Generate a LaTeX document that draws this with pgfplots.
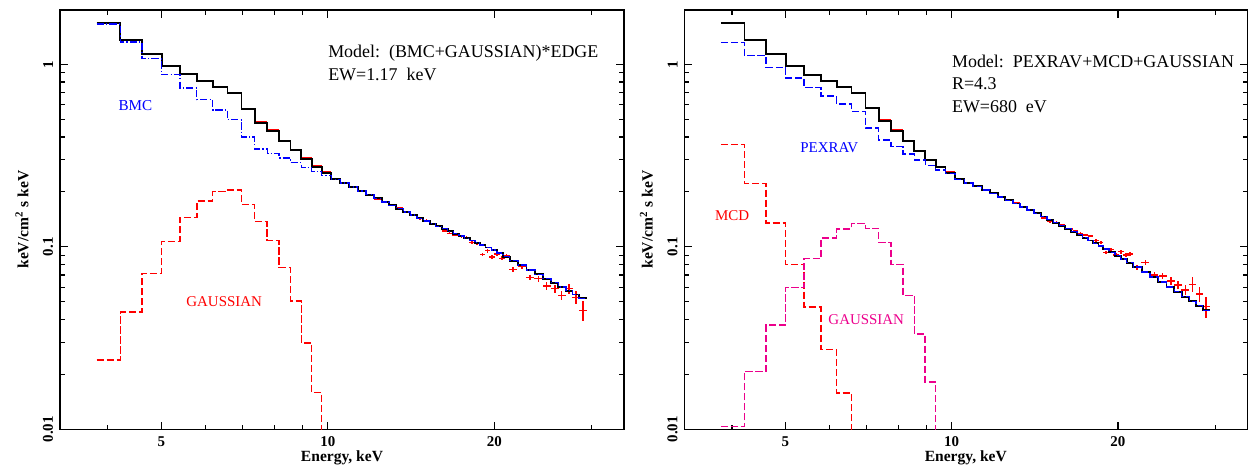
\documentclass[border=0pt]{standalone}
\usepackage{fontspec}
\setmainfont{Liberation Serif}
\usepackage{pgfplots}
\usepackage{pgfplotstable}
\pgfplotsset{compat=1.18}

% ---------- left panel: model (bin low edges) ----------
\pgfplotstableread{
lo tot comp
3.820 1.684 1.663
4.215 1.364 1.325
4.610 1.143 1.073
5.005 0.982 0.877
5.400 0.885 0.742
5.795 0.813 0.640
6.190 0.754 0.562
6.585 0.699 0.497
6.980 0.569 0.400
7.375 0.479 0.343
7.770 0.433 0.324
8.165 0.381 0.307
8.560 0.338 0.289
8.955 0.304 0.271
9.350 0.275 0.259
9.745 0.255 0.245
10.140 0.2362 0.2340
10.535 0.2240 0.2240
10.930 0.2128 0.2128
11.325 0.2024 0.2024
11.720 0.1930 0.1930
12.115 0.1842 0.1842
12.510 0.1761 0.1761
12.905 0.1685 0.1685
13.300 0.1616 0.1616
13.695 0.1551 0.1551
14.090 0.1490 0.1490
14.485 0.1434 0.1434
14.880 0.1385 0.1385
15.275 0.1339 0.1339
15.670 0.1296 0.1296
16.065 0.1256 0.1256
16.460 0.1217 0.1217
16.855 0.1181 0.1181
17.250 0.1147 0.1147
17.645 0.1113 0.1113
18.050 0.1082 0.1082
18.440 0.1053 0.1053
18.820 0.1023 0.1023
19.270 0.0991 0.0991
19.760 0.0961 0.0961
20.230 0.0923 0.0923
20.740 0.0884 0.0884
21.320 0.0839 0.0839
22.070 0.0793 0.0793
22.860 0.0748 0.0748
23.660 0.0707 0.0707
24.490 0.0669 0.0669
25.290 0.0635 0.0635
26.080 0.0603 0.0603
26.920 0.0574 0.0574
27.680 0.0548 0.0548
28.460 0.0522 0.0522
29.350 0.0522 0.0522
}\LeftModel

\pgfplotstableread{
lo y
3.820 0.0240
4.215 0.0438
4.610 0.0716
5.005 0.1072
5.400 0.1451
5.795 0.1782
6.190 0.2004
6.585 0.2048
6.980 0.1701
7.375 0.1373
7.770 0.1080
8.165 0.0768
8.560 0.0505
8.955 0.0298
9.350 0.01587
9.745 0.004
}\LeftGauss

\pgfplotstableread{
x y ex ey
4.0175 1.690 0.1975 0.005
4.4125 1.370 0.1975 0.005
4.8075 1.148 0.1975 0.005
5.2025 0.986 0.1975 0.005
5.5975 0.889 0.1975 0.005
5.9925 0.817 0.1975 0.005
6.3875 0.757 0.1975 0.005
6.7825 0.702 0.1975 0.005
7.1775 0.572 0.1975 0.005
7.5725 0.482 0.1975 0.005
7.9675 0.436 0.1975 0.005
8.3625 0.383 0.1975 0.005
8.7575 0.340 0.1975 0.005
9.1525 0.306 0.1975 0.006
9.5475 0.277 0.1975 0.006
9.9425 0.257 0.1975 0.006
10.3375 0.2375 0.1975 0.007
10.7325 0.2255 0.1975 0.007
11.1275 0.2135 0.1975 0.008
11.5225 0.2040 0.1975 0.008
11.9175 0.1935 0.1975 0.008
12.3125 0.1830 0.1975 0.009
12.7075 0.1775 0.1975 0.009
13.1025 0.1690 0.1975 0.010
13.4975 0.1630 0.1975 0.010
13.8925 0.1545 0.1975 0.011
14.2875 0.1500 0.1975 0.011
14.6825 0.1425 0.1975 0.012
15.0775 0.1395 0.1975 0.012
15.4725 0.1330 0.1975 0.013
15.8675 0.1300 0.1975 0.013
16.27 0.1221 0.19 0.014
16.61 0.1186 0.19 0.015
16.99 0.1161 0.20 0.016
17.43 0.1138 0.20 0.017
17.80 0.1127 0.20 0.018
18.23 0.1059 0.20 0.019
18.61 0.1040 0.20 0.020
19.02 0.0905 0.22 0.022
19.42 0.0951 0.22 0.022
19.81 0.0877 0.22 0.024
20.23 0.0915 0.24 0.024
20.65 0.0865 0.25 0.026
21.03 0.0892 0.28 0.026
21.60 0.0753 0.35 0.030
22.43 0.0782 0.38 0.032
23.21 0.0679 0.40 0.036
24.01 0.0668 0.40 0.040
24.85 0.0610 0.42 0.045
25.72 0.0589 0.42 0.050
26.46 0.0541 0.45 0.060
27.30 0.0589 0.45 0.065
28.07 0.0528 0.45 0.080
28.93 0.0448 0.45 0.130
}\LeftData

% ---------- right panel ----------
\pgfplotstableread{
lo tot comp
3.820 1.684 1.320
4.215 1.359 1.115
4.610 1.139 0.963
5.005 0.979 0.841
5.400 0.877 0.744
5.795 0.813 0.670
6.190 0.748 0.606
6.585 0.694 0.553
6.980 0.574 0.448
7.375 0.491 0.385
7.770 0.433 0.3536
8.165 0.381 0.3225
8.560 0.335 0.299
8.955 0.299 0.2797
9.350 0.273 0.2635
9.745 0.255 0.252
10.140 0.2345 0.2345
10.535 0.2240 0.2240
10.930 0.2142 0.2142
11.325 0.2048 0.2048
11.720 0.1962 0.1962
12.115 0.1878 0.1878
12.510 0.1800 0.1800
12.905 0.1726 0.1726
13.300 0.1655 0.1655
13.695 0.1589 0.1589
14.090 0.1526 0.1526
14.485 0.1466 0.1466
14.880 0.1409 0.1409
15.275 0.1355 0.1355
15.670 0.1304 0.1304
16.065 0.1256 0.1256
16.460 0.1209 0.1209
16.855 0.1165 0.1165
17.250 0.1122 0.1122
17.645 0.1082 0.1082
18.050 0.1044 0.1044
18.440 0.1008 0.1008
18.820 0.0972 0.0972
19.270 0.0932 0.0932
19.760 0.0894 0.0894
20.230 0.0858 0.0858
20.740 0.0819 0.0819
21.320 0.0775 0.0775
22.070 0.0728 0.0728
22.860 0.0683 0.0683
23.660 0.0640 0.0640
24.490 0.0602 0.0602
25.290 0.0567 0.0567
26.080 0.0533 0.0533
26.920 0.0503 0.0503
27.680 0.0476 0.0476
28.460 0.0449 0.0449
29.350 0.0449 0.0449
}\RightModel

\pgfplotstableread{
lo y
3.820 0.3626
4.215 0.2228
4.610 0.1350
5.005 0.0802
5.400 0.0468
5.795 0.0274
6.190 0.0158
6.585 0.004
}\RightMCD

\pgfplotstableread{
lo y
3.820 0.01033
4.215 0.0208
4.610 0.0373
5.005 0.0600
5.400 0.0861
5.795 0.1117
6.190 0.1252
6.585 0.1345
6.980 0.1263
7.375 0.1059
7.770 0.0802
8.165 0.0542
8.560 0.0333
8.955 0.0182
9.350 0.004
}\RightGauss

\pgfplotstableread{
x y ex ey
4.0175 1.690 0.1975 0.005
4.4125 1.366 0.1975 0.005
4.8075 1.145 0.1975 0.005
5.2025 0.984 0.1975 0.005
5.5975 0.881 0.1975 0.005
5.9925 0.818 0.1975 0.005
6.3875 0.752 0.1975 0.005
6.7825 0.698 0.1975 0.005
7.1775 0.577 0.1975 0.005
7.5725 0.494 0.1975 0.005
7.9675 0.436 0.1975 0.005
8.3625 0.383 0.1975 0.005
8.7575 0.337 0.1975 0.005
9.1525 0.301 0.1975 0.006
9.5475 0.275 0.1975 0.006
9.9425 0.257 0.1975 0.006
10.3375 0.2360 0.1975 0.007
10.7325 0.2250 0.1975 0.007
11.1275 0.2160 0.1975 0.008
11.5225 0.2055 0.1975 0.008
11.9175 0.1975 0.1975 0.008
12.3125 0.1890 0.1975 0.009
12.7075 0.1810 0.1975 0.009
13.1025 0.1735 0.1975 0.010
13.4975 0.1665 0.1975 0.010
13.8925 0.1600 0.1975 0.011
14.2875 0.1530 0.1975 0.011
14.6825 0.1440 0.1975 0.012
15.0775 0.1375 0.1975 0.012
15.4725 0.1360 0.1975 0.013
15.8675 0.1315 0.1975 0.013
16.41 0.1252 0.19 0.014
16.75 0.1221 0.19 0.015
17.11 0.1186 0.20 0.016
17.47 0.1161 0.20 0.017
17.83 0.1146 0.20 0.018
18.25 0.1080 0.20 0.019
18.63 0.1053 0.20 0.020
19.03 0.0928 0.22 0.022
19.43 0.0969 0.22 0.022
19.84 0.0902 0.22 0.024
20.25 0.0940 0.24 0.024
20.68 0.0902 0.25 0.026
21.03 0.0913 0.28 0.026
21.65 0.0772 0.35 0.030
22.42 0.0818 0.38 0.032
23.27 0.0701 0.40 0.036
24.09 0.0692 0.40 0.040
24.94 0.0650 0.42 0.045
25.67 0.0618 0.42 0.050
26.48 0.0580 0.45 0.060
27.29 0.0623 0.45 0.095
28.09 0.0551 0.45 0.090
28.88 0.0470 0.45 0.130
}\RightData

\pgfplotsset{
  specaxis/.style={
    scale only axis,
    xmin=3.28, xmax=34.3, ymin=0.01, ymax=1.984,
    height=209.65bp,
    xtick={5,10,20}, xticklabels={5,10,20},
    minor xtick={4,6,7,8,9,30},
    ytick={0.01,0.1,1}, yticklabels={0.01,0.1,1},
    minor ytick={0.02,0.03,0.04,0.05,0.06,0.07,0.08,0.09,0.2,0.3,0.4,0.5,0.6,0.7,0.8,0.9},
    xtick pos=both, ytick pos=both,
    tick align=inside,
    major tick length=3.8bp, minor tick length=2.4bp,
    axis line style={line width=0.75bp},
    every tick/.style={black, line width=0.6bp},
    xticklabel style={font=\fontsize{7.5}{8}\selectfont\bfseries, inner sep=0pt, anchor=north, yshift=-3.4bp},
    yticklabel style={font=\fontsize{7.5}{8}\selectfont\bfseries, rotate=90, anchor=south, inner sep=0pt, yshift=3.2bp},
    xlabel={Energy, keV},
    ylabel={keV/cm\textsuperscript{2} s keV},
    every axis x label/.style={at={(axis description cs:0.5,-0.0684)}, anchor=center, font=\fontsize{7.8}{9}\selectfont\bfseries},
    every axis y label/.style={at={(axis description cs:-0.0674,0.5)}, rotate=90, anchor=center, font=\fontsize{7.8}{9}\selectfont\bfseries},
  },
}

\begin{document}
\begin{tikzpicture}
\path[use as bounding box] (0,0) rectangle (624bp,233.5bp);

% ---------------- left panel ----------------
\begin{axis}[xmode=log, ymode=log, specaxis, at={(30bp,18.85bp)}, anchor=south west, width=282bp]
\addplot[red, draw=none, mark=none,
  error bars/x dir=both, error bars/x explicit,
  error bars/y dir=both, error bars/y explicit relative,
  error bars/error mark=none,
  error bars/error bar style={draw=red, solid, line width=0.7bp}]
  table[x=x, y=y, x error=ex, y error=ey] {\LeftData};
\addplot[red, line width=0.75bp, const plot, mark=none, dash pattern=on 3.6bp off 1.4bp] table[x=lo, y=y] {\LeftGauss};
\addplot[black, line width=0.95bp, const plot, mark=none] table[x=lo, y=tot] {\LeftModel};
\addplot[blue, line width=0.7bp, const plot, mark=none, dash pattern=on 3.6bp off 1.1bp on 0.6bp off 1.1bp] table[x=lo, y=comp] {\LeftModel};
\node[anchor=base west, inner sep=0pt, font=\fontsize{9}{10}\selectfont] at (axis cs:10,1.083) {Model:\ \ (BMC+GAUSSIAN)*EDGE};
\node[anchor=base west, inner sep=0pt, font=\fontsize{9}{10}\selectfont] at (axis cs:10,0.820) {EW=1.17\ \ keV};
\node[blue, font=\fontsize{7.6}{9}\selectfont] at (axis cs:4.49,0.591) {BMC};
\node[red, font=\fontsize{7.5}{9}\selectfont] at (axis cs:6.495,0.0500) {GAUSSIAN};
\end{axis}

% ---------------- right panel ----------------
\begin{axis}[xmode=log, ymode=log, specaxis, at={(342.15bp,18.85bp)}, anchor=south west, width=281.5bp]
\addplot[red, draw=none, mark=none,
  error bars/x dir=both, error bars/x explicit,
  error bars/y dir=both, error bars/y explicit relative,
  error bars/error mark=none,
  error bars/error bar style={draw=red, solid, line width=0.7bp}]
  table[x=x, y=y, x error=ex, y error=ey] {\RightData};
\addplot[red, line width=0.75bp, const plot, mark=none, dash pattern=on 3.6bp off 1.4bp] table[x=lo, y=y] {\RightMCD};
\addplot[magenta, line width=0.75bp, const plot, mark=none, dash pattern=on 3.6bp off 1.4bp] table[x=lo, y=y] {\RightGauss};
\addplot[black, line width=0.95bp, const plot, mark=none] table[x=lo, y=tot] {\RightModel};
\addplot[blue, line width=0.7bp, const plot, mark=none, dash pattern=on 3.6bp off 1.4bp] table[x=lo, y=comp] {\RightModel};
\node[anchor=base west, inner sep=0pt, font=\fontsize{9}{10}\selectfont] at (axis cs:10,0.958) {Model:\ \ PEXRAV+MCD+GAUSSIAN};
\node[anchor=base west, inner sep=0pt, font=\fontsize{9}{10}\selectfont] at (axis cs:10,0.723) {R=4.3};
\node[anchor=base west, inner sep=0pt, font=\fontsize{9}{10}\selectfont] at (axis cs:10,0.5458) {EW=680\ \ eV};
\node[blue, font=\fontsize{7.5}{9}\selectfont] at (axis cs:6.004,0.349) {PEXRAV};
\node[red, font=\fontsize{7.5}{9}\selectfont] at (axis cs:4.004,0.148) {MCD};
\node[magenta, font=\fontsize{7.5}{9}\selectfont] at (axis cs:7.003,0.0397) {GAUSSIAN};
\end{axis}
\end{tikzpicture}
\end{document}
